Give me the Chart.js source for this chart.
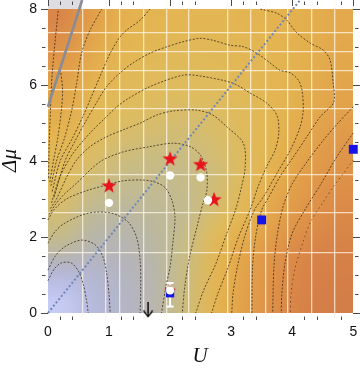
<!DOCTYPE html>
<html><head><meta charset="utf-8">
<script src="https://cdn.jsdelivr.net/npm/chart.js@4.4.1/dist/chart.umd.min.js"></script>
<style>html,body{margin:0;padding:0;background:#fff;}#wrap{width:360px;height:370px;position:relative;}</style>
</head><body><div id="wrap"><canvas id="c"></canvas></div>
<script>
// ---- axis ticks ----
const xTickValues = [0, 1, 2, 3, 4, 5];
const yTickValues = [0, 2, 4, 6, 8];
const xMinorTicks = [0.2, 0.4, 1.2, 1.4, 2.2, 2.4, 3.2, 3.4, 4.2, 4.4, 4.8];
const yMinorTicks = [0.5, 1, 1.5, 2.5, 3, 3.5, 4.5, 5, 5.5, 6.5, 7, 7.5];
// ---- mesh lines of the density plot ----
const meshU = [0.57, 0.95, 1.18, 1.56, 1.95, 2.31, 2.95, 3.32, 3.57, 3.93, 4.32, 4.69];
const meshMu = [1.6, 2.63, 3.63, 5.39, 5.89, 6.37, 6.89, 7.39];
// ---- density values (0 = lavender, 1 = deep orange), rows bottom->top ----
const heatU = [0.25, 0.75, 1.25, 1.75, 2.25, 2.75, 3.25, 3.75, 4.25, 4.75];
const heatMu = [0.25, 0.75, 1.25, 1.75, 2.25, 2.75, 3.25, 3.75, 4.25, 4.75, 5.25, 5.75, 6.25, 6.75, 7.25, 7.75];
const heatRows = [
  [0.03, 0.12, 0.18, 0.26, 0.42, 0.60, 0.72, 0.82, 0.90, 0.92],
  [0.08, 0.14, 0.19, 0.26, 0.41, 0.59, 0.71, 0.81, 0.89, 0.91],
  [0.18, 0.18, 0.21, 0.27, 0.40, 0.58, 0.70, 0.80, 0.88, 0.90],
  [0.32, 0.24, 0.24, 0.29, 0.39, 0.56, 0.68, 0.78, 0.86, 0.89],
  [0.40, 0.29, 0.27, 0.31, 0.37, 0.50, 0.62, 0.73, 0.82, 0.86],
  [0.45, 0.34, 0.31, 0.33, 0.36, 0.46, 0.58, 0.69, 0.79, 0.84],
  [0.50, 0.39, 0.35, 0.35, 0.37, 0.44, 0.55, 0.66, 0.76, 0.81],
  [0.53, 0.45, 0.39, 0.38, 0.38, 0.43, 0.53, 0.63, 0.73, 0.79],
  [0.56, 0.49, 0.43, 0.41, 0.41, 0.45, 0.52, 0.61, 0.70, 0.77],
  [0.60, 0.53, 0.47, 0.45, 0.44, 0.47, 0.53, 0.60, 0.67, 0.74],
  [0.64, 0.56, 0.50, 0.48, 0.47, 0.49, 0.54, 0.59, 0.65, 0.71],
  [0.68, 0.59, 0.53, 0.51, 0.50, 0.51, 0.55, 0.59, 0.64, 0.69],
  [0.72, 0.62, 0.56, 0.53, 0.52, 0.53, 0.56, 0.59, 0.63, 0.68],
  [0.77, 0.65, 0.58, 0.55, 0.54, 0.55, 0.57, 0.59, 0.63, 0.67],
  [0.82, 0.68, 0.60, 0.57, 0.56, 0.57, 0.58, 0.60, 0.63, 0.66],
  [0.86, 0.71, 0.62, 0.59, 0.58, 0.58, 0.59, 0.61, 0.63, 0.66]
];
const colorStops = [
  [0.00, [205, 210, 250]], [0.10, [182, 186, 225]], [0.20, [180, 180, 192]],
  [0.30, [186, 183, 160]], [0.40, [201, 188, 130]], [0.50, [222, 188, 95]],
  [0.60, [228, 180, 80]], [0.70, [226, 162, 74]], [0.80, [222, 145, 72]],
  [0.90, [214, 128, 72]], [1.00, [200, 112, 70]]
];
// ---- contour lines [U, Δμ] ----
const contourA1 = [[0,0.85],[0.1,1.15],[0.22,1.32],[0.38,1.32],[0.5,1.1],[0.58,0.75],[0.63,0.35],[0.66,0]];
const contourA2 = [[0,1.13],[0.12,1.5],[0.28,1.75],[0.55,1.92],[0.77,1.8],[0.9,1.48],[0.96,1.05],[1.0,0.5],[1.02,0]];
const contourA3 = [[0,1.84],[0.12,2.15],[0.28,2.37],[0.66,2.63],[1.04,2.63],[1.31,2.4],[1.45,2.0],[1.51,1.39],[1.52,0.7],[1.51,0]];
const contourA4 = [[0,2.45],[0.1,2.72],[0.3,3.0],[0.63,3.22],[0.96,3.37],[1.23,3.48],[1.55,3.5],[1.75,3.45],[1.92,3.3],[2.03,2.97],[2.08,2.53],[2.05,1.92],[2.0,1.22],[1.93,0.69],[1.86,0]];
const contourA5 = [[0.02,2.6],[0.12,2.85],[0.25,3.1],[0.47,3.42],[0.85,3.98],[1.23,4.24],[1.67,4.38],[2.05,4.47],[2.33,4.38],[2.5,4.15],[2.6,3.7],[2.6,3.2],[2.54,2.9],[2.44,2.27],[2.32,1.48],[2.24,0.69],[2.2,0]];
const contourA6 = [[0.04,2.75],[0.14,3.0],[0.31,3.59],[0.47,4.03],[0.69,4.38],[0.96,4.64],[1.23,4.82],[1.51,5.0],[1.78,5.21],[2.05,5.32],[2.44,5.34],[2.7,5.21],[2.93,4.9],[3.2,4.47],[3.23,3.85],[3.17,3.32],[3.07,2.71],[2.93,2.1],[2.75,1.3],[2.55,0.6],[2.42,0]];
const contourA7 = [[0.06,2.9],[0.2,3.6],[0.41,4.2],[0.69,4.74],[0.96,5.17],[1.13,5.43],[1.29,5.62],[1.67,5.96],[2.21,6.26],[2.49,6.24],[3.03,6.05],[3.31,5.79],[3.58,5.53],[3.75,5.2],[3.78,4.74],[3.72,4.29],[3.58,3.85],[3.44,3.32],[3.31,2.71],[3.12,2.0],[2.95,1.2],[2.78,0.5],[2.68,0]];
const contourF = [[0.1,3.05],[0.28,4.0],[0.45,4.55],[0.62,5.05],[0.8,5.55],[0.96,5.96],[1.18,6.32],[1.39,6.58],[1.67,6.84],[1.95,7.01],[2.21,7.14],[2.49,7.23],[2.7,7.18],[2.98,7.05],[3.2,7.01],[3.42,6.84],[3.64,6.58],[3.8,6.39],[3.97,6.32],[4.1,6.13],[4.16,5.87],[4.18,5.34],[4.13,4.9],[3.97,4.29],[3.75,3.68],[3.53,3.06],[3.38,2.71],[3.22,2.0],[3.1,1.2],[3.03,0.5],[3.01,0]];
const contourE = [[0.07,3.2],[0.2,4.0],[0.4,4.6],[0.58,5.2],[0.69,5.61],[0.85,6.22],[1.02,6.84],[1.18,7.27],[1.29,7.45],[1.51,7.71],[1.67,8.0]];
const contourD = [[0.05,3.35],[0.14,4.0],[0.27,4.6],[0.39,5.34],[0.47,6.05],[0.55,6.84],[0.69,7.45],[0.88,8.0]];
const contourC = [[0.03,3.45],[0.09,4.0],[0.16,4.6],[0.22,5.34],[0.24,5.9],[0.2,6.45]];
const contourA0 = [[0.01,3.55],[0.02,4.4],[0.04,5.3],[0.07,6.3],[0.12,7.2],[0.17,8.0]];
const contourTopRight = [[3.48,8.0],[3.75,7.89],[3.91,7.71],[4.08,7.37],[4.3,7.1],[4.51,6.92],[4.62,6.66],[4.67,6.05],[4.68,5.55],[4.46,5.17],[4.24,4.64],[4.02,4.11],[3.8,3.59],[3.62,3.06],[3.5,2.71],[3.4,2.0],[3.35,1.2],[3.34,0]];
const contourR1 = [[5,5.43],[4.75,5.0],[4.51,4.55],[4.25,4.0],[4.0,3.4],[3.85,2.8],[3.75,2.0],[3.7,1.2],[3.68,0]];
const contourR2 = [[5,4.74],[4.73,4.11],[4.46,3.37],[4.22,2.75],[4.0,2.1],[3.88,1.3],[3.83,0.5],[3.82,0]];
const contourR3 = [[5,4.03],[4.84,3.68],[4.67,3.32],[4.51,2.93],[4.3,2.4],[4.18,1.88],[4.05,1.2],[3.98,0.5],[3.97,0]];
// ---- lines and markers ----
const boundaryLine = [[0,5.43],[0.56,8.24]];
const diagonalLine = [[0,0],[4.13,8.24]];
const starU = [1.0, 2.0, 2.5, 2.72];
const starMu = [3.34, 4.05, 3.9, 2.98];
const dotU = [1.0, 2.0, 2.5, 2.62];
const dotMu = [2.9, 3.62, 3.57, 2.97];
const squareU = [3.5, 5.0];
const squareMu = [2.45, 4.31];
const expU = 2.0, expMu = 0.59, expErrLow = 0.17, expErrHigh = 0.79, expSquareMu = 0.52;
const arrowU = 1.64, arrowFrom = 0.29, arrowTo = -0.09;

const XMIN = -0.13, XMAX = 5.11, YMIN = -0.21, YMAX = 8.24;

function cmap(v){
  for (let i=1;i<colorStops.length;i++){
    if (v<=colorStops[i][0]){
      const [a,ca]=colorStops[i-1],[b,cb]=colorStops[i];
      const t=(v-a)/(b-a);
      return ca.map((c,k)=>Math.round(c+(cb[k]-c)*t));
    }
  }
  return colorStops[colorStops.length-1][1];
}
function pts(arr){return arr.map(p=>({x:p[0],y:p[1]}));}
function starCanvas(size, outer, inner, color){
  const c=document.createElement('canvas'); c.width=size; c.height=size;
  const g=c.getContext('2d'); g.fillStyle=color; g.beginPath();
  for(let i=0;i<10;i++){
    const r=i%2?inner:outer; const a=-Math.PI/2+i*Math.PI/5;
    const x=size/2+r*Math.cos(a), y=size/2+r*Math.sin(a);
    i?g.lineTo(x,y):g.moveTo(x,y);
  }
  g.closePath(); g.fill(); return c;
}
function arrowHead(){
  const c=document.createElement('canvas'); c.width=12; c.height=12;
  const g=c.getContext('2d'); g.strokeStyle='#000'; g.lineWidth=1.4;
  g.beginPath(); g.moveTo(1.5,0.5); g.lineTo(6,6); g.lineTo(10.5,0.5); g.stroke(); return c;
}
const bigStar = starCanvas(18, 8, 3.3, '#e8141c');
const smallStar = starCanvas(14, 6.2, 2.6, '#e8141c');
const arrowImg = arrowHead();

const heatmapPlugin = {
  id:'heatmap',
  beforeDraw(chart){
    const xs=chart.scales.x, ys=chart.scales.y, ctx=chart.ctx;
    const nC=heatU.length, nR=heatMu.length;
    const off=document.createElement('canvas'); off.width=nC; off.height=nR;
    const o=off.getContext('2d'); const img=o.createImageData(nC,nR);
    for(let r=0;r<nR;r++){ for(let c=0;c<nC;c++){
      const col=cmap(heatRows[r][c]); const idx=((nR-1-r)*nC+c)*4;
      img.data[idx]=col[0]; img.data[idx+1]=col[1]; img.data[idx+2]=col[2]; img.data[idx+3]=255;
    }}
    o.putImageData(img,0,0);
    const x0=xs.getPixelForValue(0), x1=xs.getPixelForValue(5);
    const y0=ys.getPixelForValue(8), y1=ys.getPixelForValue(0);
    ctx.save();
    ctx.fillStyle='#fff'; ctx.fillRect(0,0,chart.width,chart.height);
    ctx.imageSmoothingEnabled=true; ctx.imageSmoothingQuality='high';
    ctx.drawImage(off, x0, y0, x1-x0, y1-y0);
    ctx.restore();
  }
};
const frameTicks = {
  id:'frameTicks',
  afterDraw(chart){
    const xs=chart.scales.x, ys=chart.scales.y, ctx=chart.ctx, a=chart.chartArea;
    ctx.save(); ctx.strokeStyle='#4a4a4a'; ctx.lineWidth=1;
    const seg=(x1,y1,x2,y2)=>{ctx.beginPath();ctx.moveTo(x1,y1);ctx.lineTo(x2,y2);ctx.stroke();};
    yTickValues.forEach(v=>{const y=Math.round(ys.getPixelForValue(v))+0.5; seg(a.left+1,y,a.left+8,y); seg(a.right-7,y,a.right,y);});
    yMinorTicks.forEach(v=>{const y=Math.round(ys.getPixelForValue(v))+0.5; seg(a.left+2,y,a.left+5.5,y); seg(a.right-5,y,a.right-1.5,y);});
    xTickValues.forEach(v=>{const x=Math.round(xs.getPixelForValue(v))+0.5; seg(x,a.top,x,a.top+6);});
    xMinorTicks.forEach(v=>{const x=Math.round(xs.getPixelForValue(v))+0.5; seg(x,a.top+1.5,x,a.top+5); seg(x,a.bottom-4.5,x,a.bottom-1);});
    ctx.restore();
  }
};

const contourSets = [contourA1,contourA2,contourA3,contourA4,contourA5,contourA6,contourA7,contourF,contourE,contourD,contourC,contourA0,contourTopRight,contourR1,contourR2,contourR3];
const layers = [];
layers.push({data:[{x:0,y:8.24},{x:0.56,y:8.24}], showLine:true, borderWidth:0, pointRadius:0, fill:{value:8}, backgroundColor:'rgba(222,222,226,1)'});
contourSets.forEach((cs,i)=>layers.push({data:pts(cs), showLine:true, borderColor:i===15?'rgba(60,35,20,0.75)':'rgba(45,32,20,0.88)', borderWidth:0.85, borderDash:i===15?[1.5,3]:[2,1.6], pointRadius:0, tension:0.3}));
layers.push({data:pts(boundaryLine), showLine:true, borderColor:'#888c96', borderWidth:2.6, pointRadius:0});
layers.push({data:pts(diagonalLine), showLine:true, borderColor:'#6f86b8', borderWidth:2, borderDash:[2,2.2], pointRadius:0});
layers.push({data:[{x:expU,y:expErrLow},{x:expU,y:expErrHigh}], showLine:true, borderColor:'#fff', borderWidth:2, pointStyle:'line', pointRadius:3.5, pointBorderColor:'#fff', pointBorderWidth:2});
layers.push({data:starU.map((u,i)=>({x:u,y:starMu[i]})), pointStyle:bigStar});
layers.push({data:[{x:expU,y:expMu}], pointStyle:smallStar});
layers.push({data:[{x:expU,y:expSquareMu}], pointStyle:'rect', pointRadius:5.8, backgroundColor:'#1414e6', borderWidth:0});
layers.push({data:[{x:expU,y:expMu}], pointStyle:'circle', pointRadius:4, backgroundColor:'#fff', borderWidth:0});
layers.push({data:dotU.map((u,i)=>({x:u,y:dotMu[i]})), pointStyle:'circle', pointRadius:4.2, backgroundColor:'#fff', borderWidth:0});
layers.push({data:squareU.map((u,i)=>({x:u,y:squareMu[i]})), pointStyle:'rect', pointRadius:6.3, backgroundColor:'#1414e6', borderWidth:0});
layers.push({data:[{x:arrowU,y:arrowFrom},{x:arrowU,y:arrowTo}], showLine:true, borderColor:'#000', borderWidth:1.4,
  pointStyle:(c)=>c.dataIndex===1?arrowImg:'circle', pointRadius:(c)=>c.dataIndex===1?6:0});
const N = layers.length;
layers.forEach((d,i)=>{d.order=N-i; d.clip=false; if(d.pointHoverRadius===undefined) d.pointHoverRadius=d.pointRadius;});

const tickFont = {family:'"Liberation Sans", Arial, sans-serif', size:14};
const titleFont = {family:'"Liberation Serif", "Times New Roman", serif', size:21, style:'italic', lineHeight:1};
const noPadH = (s,h)=>{s.height=h; s.paddingLeft=0; s.paddingRight=0; s.paddingTop=0; s.paddingBottom=0;};
const noPadV = (s,w)=>{s.width=w; s.paddingLeft=0; s.paddingRight=0; s.paddingTop=0; s.paddingBottom=0;};

new Chart(document.getElementById('c'), {
  type:'scatter',
  data:{datasets:layers},
  options:{
    responsive:true, maintainAspectRatio:false, animation:false,
    layout:{padding:0, autoPadding:false},
    plugins:{legend:{display:false}, tooltip:{enabled:false}},
    events:[],
    scales:{
      x:{type:'linear', min:XMIN, max:XMAX, position:'bottom',
        afterBuildTicks:(ax)=>{ax.ticks=xTickValues.map(v=>({value:v}));},
        afterFit:(s)=>noPadH(s,49),
        grid:{display:false, drawTicks:false}, border:{display:false},
        ticks:{font:tickFont, color:'#111', padding:3, autoSkip:false, maxRotation:0, callback:(v)=>String(v)},
        title:{display:true, text:'U', font:titleFont, color:'#111', padding:{top:0,bottom:3}}},
      y:{type:'linear', min:YMIN, max:YMAX, position:'left',
        afterBuildTicks:(ax)=>{ax.ticks=yTickValues.map(v=>({value:v}));},
        afterFit:(s)=>noPadV(s,40),
        grid:{display:false, drawTicks:false}, border:{display:false},
        ticks:{font:tickFont, color:'#111', padding:3, autoSkip:false, callback:(v)=>String(v)},
        title:{display:true, text:'Δμ', font:titleFont, color:'#111', padding:{top:0,bottom:0}}},
      x2:{type:'linear', min:XMIN, max:XMAX, position:'top',
        afterBuildTicks:(ax)=>{ax.ticks=meshU.map(v=>({value:v}));},
        afterFit:(s)=>noPadH(s,0),
        grid:{color:'rgba(255,250,236,0.72)', lineWidth:1.3, drawTicks:false}, border:{display:false},
        ticks:{display:false}},
      y2:{type:'linear', min:YMIN, max:YMAX, position:'right',
        afterBuildTicks:(ax)=>{ax.ticks=meshMu.map(v=>({value:v}));},
        afterFit:(s)=>noPadV(s,0),
        grid:{color:'rgba(255,250,236,0.72)', lineWidth:1.3, drawTicks:false}, border:{display:false},
        ticks:{display:false}}
    }
  },
  plugins:[heatmapPlugin, frameTicks]
});
</script>
</body></html>
